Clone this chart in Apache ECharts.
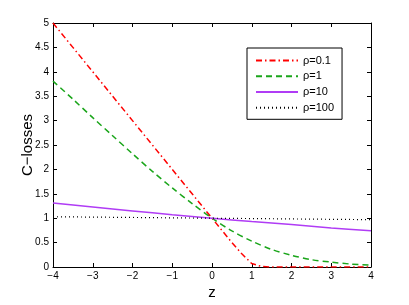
<!DOCTYPE html>
<html><head><meta charset="utf-8">
<script src="https://cdn.jsdelivr.net/npm/echarts@6/dist/echarts.min.js"></script>
<style>html,body{margin:0;padding:0;background:#fff}#c{width:409px;height:305px}</style>
</head><body><div id="c"></div>
<script>
const zRho01 = [-4,-3.5,-3,-2.5,-2,-1.5,-1,-0.5,0,0.5,0.75,1,1.25,1.5,2,2.5,3,3.5,4];
const rho01  = [5,4.5,4,3.5,3,2.5,2,1.5,1,0.5,0.27,0.07,0.01,0,0,0,0,0,0];
const zRho1  = [-4,-3.5,-3,-2.5,-2,-1.5,-1,-0.5,0,0.5,1,1.5,2,2.5,3,3.5,4];
const rho1   = [3.81,3.44,3.06,2.69,2.32,1.96,1.62,1.30,1.0,0.74,0.53,0.36,0.24,0.15,0.10,0.06,0.04];
const zRho10 = [-4,-3,-2,-1,0,1,2,3,4];
const rho10  = [1.31,1.23,1.15,1.07,1.0,0.93,0.87,0.80,0.745];
const zRho100 = [-4,-2,0,2,4];
const rho100 = [1.03,1.015,1.0,0.985,0.97];
const names = ['ρ=0.1','ρ=1','ρ=10','ρ=100'];
const xTicks = {min:-4,max:4,interval:1};
const yTicks = {min:0,max:5,interval:0.5};

const pair = (xs, ys) => xs.map((x,i)=>[x,ys[i]]);
const font = 'Liberation Sans, Arial, sans-serif';
const minus = v => String(v).replace('-', '\u2212');
const axCommon = {
  axisLine:{show:true,onZero:false,lineStyle:{color:'#000',width:1}},
  axisTick:{show:true,inside:true,length:4,lineStyle:{color:'#000'}},
  splitLine:{show:false}
};
const chart = echarts.init(document.getElementById('c'));
chart.setOption({
  animation:false,
  backgroundColor:'#fff',
  grid:{left:53,right:38,top:23,bottom:35},
  legend:{
    orient:'vertical', left:247, top:48, width:98, height:77,
    padding:[7,8,6,8], itemGap:4.5, itemWidth:42, itemHeight:14,
    borderColor:'#000', borderWidth:1, backgroundColor:'#fff',
    itemStyle:{color:'transparent',borderWidth:0,opacity:0},
    textStyle:{fontFamily:font,fontSize:11,color:'#000'},
    data:names
  },
  xAxis:[
    Object.assign({type:'value',position:'bottom',min:xTicks.min,max:xTicks.max,interval:xTicks.interval,
      name:'z',nameLocation:'middle',nameGap:18,nameMoveOverlap:false,
      nameTextStyle:{fontFamily:font,fontSize:15,color:'#000'},
      axisLabel:{fontFamily:font,fontSize:10,color:'#000',margin:4,formatter:minus}},axCommon),
    Object.assign({type:'value',position:'top',min:xTicks.min,max:xTicks.max,interval:xTicks.interval,
      axisLabel:{show:false}},axCommon)
  ],
  yAxis:[
    Object.assign({type:'value',position:'left',min:yTicks.min,max:yTicks.max,interval:yTicks.interval,
      name:'C\u2212losses',nameLocation:'middle',nameGap:18,nameMoveOverlap:false,
      nameTextStyle:{fontFamily:font,fontSize:15,color:'#000'},
      axisLabel:{fontFamily:font,fontSize:10,color:'#000',margin:4,formatter:minus}},axCommon),
    Object.assign({type:'value',position:'right',min:yTicks.min,max:yTicks.max,interval:yTicks.interval,
      axisLabel:{show:false}},axCommon)
  ],
  series:[
    {name:names[0],type:'line',symbol:'none',data:pair(zRho01,rho01),
     lineStyle:{color:'#ff0000',width:1.5,type:[6,3,1.5,3]},itemStyle:{color:'#ff0000'}},
    {name:names[1],type:'line',symbol:'none',smooth:0.3,data:pair(zRho1,rho1),
     lineStyle:{color:'#1aa51a',width:1.5,type:[6,4]},itemStyle:{color:'#1aa51a'}},
    {name:names[2],type:'line',symbol:'none',smooth:0.3,data:pair(zRho10,rho10),
     lineStyle:{color:'#b03cf5',width:1.5,type:'solid'},itemStyle:{color:'#b03cf5'}},
    {name:names[3],type:'line',symbol:'none',data:pair(zRho100,rho100),
     lineStyle:{color:'#000',width:1.2,type:[1,3]},itemStyle:{color:'#000'}}
  ]
});
</script></body></html>
